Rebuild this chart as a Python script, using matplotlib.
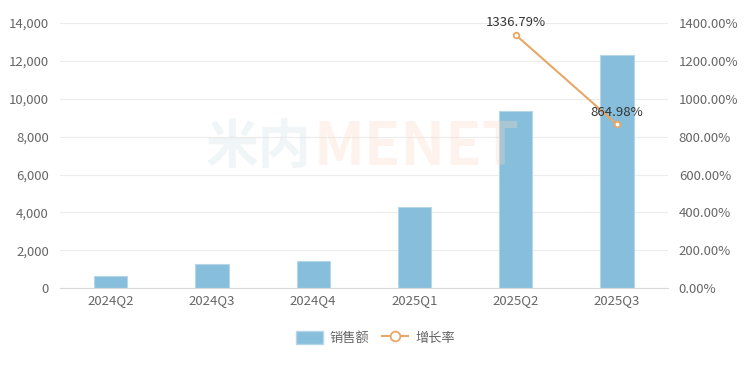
import matplotlib.pyplot as plt
from matplotlib.ticker import FuncFormatter
from matplotlib.lines import Line2D
from matplotlib.patches import Patch
import numpy as np

plt.rcParams['font.family'] = ['Noto Sans CJK SC', 'DejaVu Sans']

# data
quarters = ['2024Q2', '2024Q3', '2024Q4', '2025Q1', '2025Q2', '2025Q3']
sales = [660, 1270, 1420, 4280, 9350, 12310]
growth_quarters = ['2025Q2', '2025Q3']
growth = [1336.79, 864.98]

bar_color = '#87bedb'
line_color = '#e8a765'
text_color = '#666666'
grid_color = '#ececec'

fig = plt.figure(figsize=(7.51, 3.68), dpi=100)
ax = fig.add_axes([0.08, 0.217, 0.809, 0.7205])

x = np.arange(len(quarters))
ax.bar(x, sales, width=0.33, color=bar_color, edgecolor='#b5d6e8', linewidth=0.8, zorder=2)
ax.set_ylim(0, 14000)
ax.set_yticks(range(0, 14001, 2000))
ax.yaxis.set_major_formatter(FuncFormatter(lambda v, p: f'{int(v):,}'))
ax.set_xlim(-0.5, len(quarters) - 0.5)
ax.set_xticks(x)
ax.set_xticklabels(quarters)
ax.grid(axis='y', color=grid_color, linewidth=0.8, zorder=0)
ax.set_axisbelow(True)
for s in ['top', 'right', 'left']:
    ax.spines[s].set_visible(False)
ax.spines['bottom'].set_color('#d9d9d9')
ax.tick_params(axis='both', colors=text_color, labelsize=9.5, length=0, pad=8)
ax.tick_params(axis='x', pad=4)

ax2 = ax.twinx()
gx = [quarters.index(q) for q in growth_quarters]
ax2.plot(gx, growth, color=line_color, linewidth=1.5, marker='o', markersize=4,
         markerfacecolor='white', markeredgecolor=line_color, markeredgewidth=1.3,
         zorder=3)
for xi, g in zip(gx, growth):
    ax2.annotate(f'{g:.2f}%', (xi, g), xytext=(0, 4), textcoords='offset points',
                 ha='center', va='bottom', fontsize=9.5, color='#333333')
ax2.set_ylim(0, 1400)
ax2.set_yticks(range(0, 1401, 200))
ax2.yaxis.set_major_formatter(FuncFormatter(lambda v, p: f'{v:.2f}%'))
for s in ['top', 'right', 'left', 'bottom']:
    ax2.spines[s].set_visible(False)
ax2.tick_params(axis='y', colors=text_color, labelsize=9.5, length=0, pad=8)

# faint watermark
fig.text(0.415, 0.598, '米内', fontsize=38, fontweight='bold', color='#dfe9ee',
         alpha=0.45, ha='right', va='center', zorder=5)
fig.text(0.417, 0.598, 'MENET', fontsize=43, fontweight='bold', color='#fbd9c2',
         alpha=0.3, ha='left', va='center', zorder=5)

handles = [Patch(facecolor=bar_color, edgecolor='#b5d6e8'),
           Line2D([], [], color=line_color, linewidth=1.5, marker='o', markersize=7,
                  markerfacecolor='white', markeredgecolor=line_color, markeredgewidth=1.3)]
fig.legend(handles, ['销售额', '增长率'], loc='center', bbox_to_anchor=(0.5, 0.082), ncol=2,
           frameon=False, fontsize=9.5, labelcolor=text_color, handlelength=2.0,
           handleheight=1.1, columnspacing=1.0, handletextpad=0.5)

fig.savefig('out.png', dpi=100)
